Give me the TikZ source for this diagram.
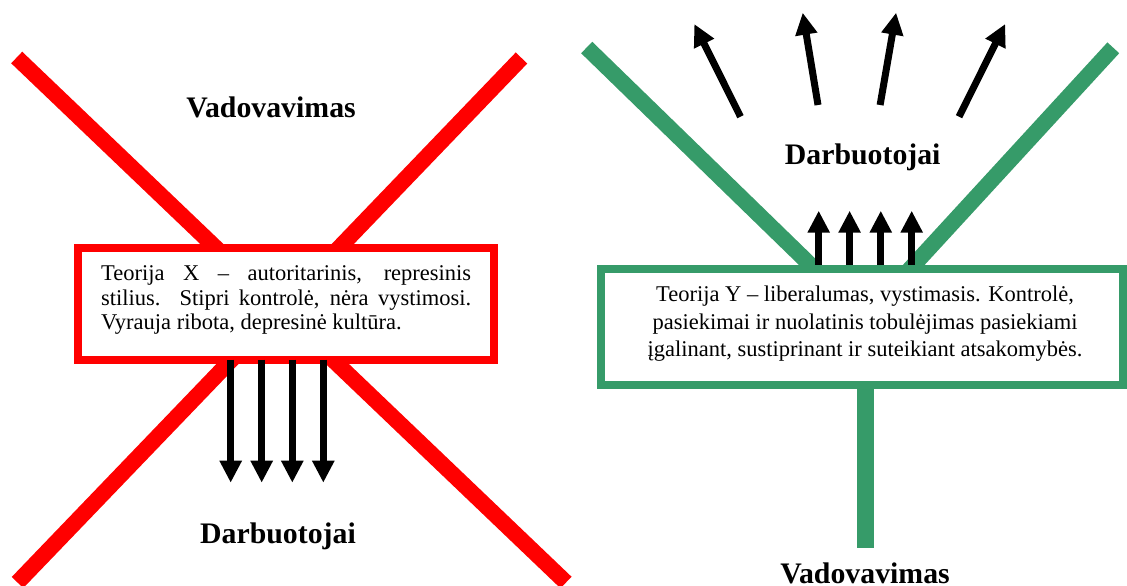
\documentclass[tikz,border=0pt]{standalone}
\usepackage{fontspec}
\setmainfont{Liberation Serif}
\usetikzlibrary{arrows.meta}
\definecolor{xred}{RGB}{255,0,0}
\definecolor{ygreen}{RGB}{54,155,105}

\begin{document}
\begin{tikzpicture}[x=1pt,y=-1pt,
  redbar/.style={draw=xred,line width=16pt},
  greenbar/.style={draw=ygreen,line width=16pt},
  framebox/.style={draw=#1,line width=8pt,fill=white,inner sep=0pt},
  flow/.style={draw=black,line width=7pt,-{Triangle[length=22pt,width=21pt]}},
  title/.style={font=\fontsize{29.8}{32}\selectfont\bfseries,inner sep=0pt,anchor=base},
  body/.style={font=\fontsize{22.5}{24}\selectfont,inner sep=0pt},
]
\useasboundingbox (0,0) rectangle (1127,586);
\clip (0,0) rectangle (1127,586);

% ---------- Theory X: crossed-out red frame ----------
\coordinate (ra1) at (16.7,57.5);
\coordinate (ra2) at (566,582.5);
\coordinate (rb1) at (521.5,58);
\coordinate (rb2) at (17.5,582.5);
\draw[redbar] (ra1) -- (ra2);
\draw[redbar] (rb1) -- (rb2);

\node[framebox=xred,outer sep=0pt,minimum width=416pt,minimum height=111.7pt] (boxX) at (286,303.85) {};
\node[body,anchor=base west] (tx1) at (101,280.5) {\makebox[370pt][s]{Teorija X – autoritarinis, represinis}};
\node[body,anchor=base west] (tx2) at (101,305) {\makebox[370pt][s]{stilius. Stipri kontrolė, nėra vystimosi.}};
\node[body,anchor=base west] (tx3) at (101,329.5) {Vyrauja ribota, depresinė kultūra.};

\node[title] (leadX) at (271,117.5) {Vadovavimas};
\node[title] (staffX) at (278,543.3) {Darbuotojai};

\coordinate (d1) at (230.7,482.7);
\coordinate (d2) at (261.7,482.7);
\coordinate (d3) at (292.3,482.7);
\coordinate (d4) at (323.3,482.7);
\foreach \c in {d1,d2,d3,d4}
  \draw[flow] (\c |- boxX.south) -- (\c);

% ---------- Theory Y: green Y-shaped frame ----------
\coordinate (gl) at (586.7,47.5);
\coordinate (gr) at (1113.3,47.8);
\coordinate (gj) at (865,318);
\coordinate (gb) at (865,548.3);
\draw[greenbar,line join=miter] (gl) -- (gj) -- (gr);
\draw[greenbar,line width=17pt] (gj) -- (gb);

\node[framebox=ygreen,minimum width=522pt,minimum height=115.8pt] (boxY) at (862,326.8) {};
\node[body,anchor=base] (ty1) at (865,301.7) {Teorija Y – liberalumas, vystimasis. Kontrolė,};
\node[body,anchor=base] (ty2) at (865,329) {pasiekimai ir nuolatinis tobulėjimas pasiekiami};
\node[body,anchor=base] (ty3) at (865,356) {įgalinant, sustiprinant ir suteikiant atsakomybės.};

\node[title] (staffY) at (862.7,164) {Darbuotojai};
\node[title] (leadY) at (865,583.6) {Vadovavimas};

\coordinate (u1) at (818.7,210.7);
\coordinate (u2) at (849.6,210.7);
\coordinate (u3) at (880.8,210.7);
\coordinate (u4) at (911.7,210.7);
\foreach \c in {u1,u2,u3,u4}
  \draw[flow] (\c |- boxY.north) -- (\c);

\coordinate (f1s) at (740.5,116.7); \coordinate (f1e) at (694.3,24);
\coordinate (f2s) at (818,105);    \coordinate (f2e) at (802.7,12.7);
\coordinate (f3s) at (880.1,105);  \coordinate (f3e) at (896.1,12.7);
\coordinate (f4s) at (959,116.7);  \coordinate (f4e) at (1005.2,24);
\draw[flow] (f1s) -- (f1e);
\draw[flow] (f2s) -- (f2e);
\draw[flow] (f3s) -- (f3e);
\draw[flow] (f4s) -- (f4e);
\end{tikzpicture}
\end{document}
